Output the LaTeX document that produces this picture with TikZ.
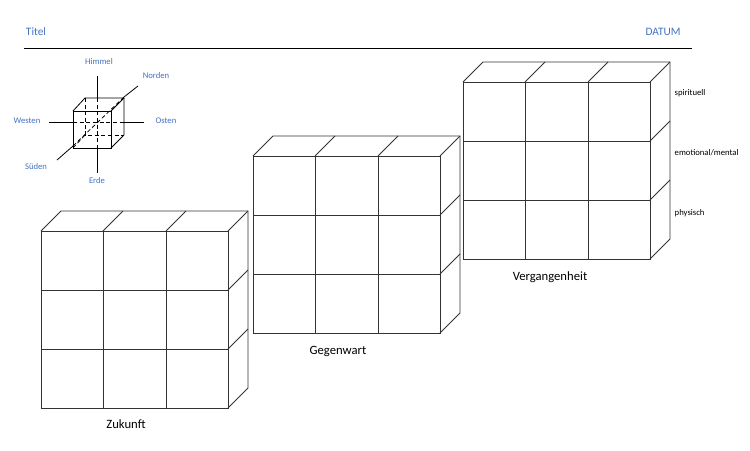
\documentclass[tikz,border=0pt]{standalone}
\usepackage{fontspec}
\setmainfont{Carlito}
\begin{document}
\begin{tikzpicture}[x=0.75pt,y=-0.75pt,
  grid/.style={line width=0.6pt,black!80},
  blue/.style={text=blue!55!cyan!70!black,font=\fontsize{7}{8}\selectfont},
  side/.style={font=\fontsize{6.5}{8}\selectfont,anchor=west},
  big/.style={font=\fontsize{9.5}{11}\selectfont}]
\useasboundingbox (0,0) rectangle (750,450);
\definecolor{tblue}{HTML}{4472C4}
\newcommand{\mycube}[2]{%
  \begin{scope}[shift={(#1,#2)}]
  \draw[grid] (0,0) rectangle (187,177);
  \foreach \i in {62,125} \draw[grid] (\i,0) -- (\i,177);
  \foreach \j in {59,118} \draw[grid] (0,\j) -- (187,\j);
  \draw[grid] (0,0) -- (20,-20) -- (207,-20) -- (207,157) -- (187,177);
  \draw[grid] (187,0) -- (207,-20);
  \foreach \i in {62,125} \draw[grid] (\i,0) -- (\i+20,-20);
  \foreach \j in {59,118} \draw[grid] (187,\j) -- (207,\j-20);
  \end{scope}}
\node[text=tblue,font=\fontsize{8.5}{10}\selectfont] (titel) at (36,32) {Titel};
\node[text=tblue,font=\fontsize{8.5}{10}\selectfont] (datum) at (663,32) {DATUM};
\draw[line width=0.6pt] (24,48) -- (692,48);
% small cube
\begin{scope}[line width=0.6pt]
\draw (97,76) -- (97,98); \draw (97,148) -- (97,173);
\draw (49,122) -- (73,122); \draw (124,122) -- (144,122);
\draw (57,160) -- (73,146); \draw (124,97) -- (138,86);
\draw (73,111) rectangle (111,148);
\draw (73,111) -- (85,98) -- (124,98) -- (124,135) -- (111,148);
\draw (111,111) -- (124,98);
\draw[densely dashed] (85,98) -- (85,135) -- (124,135);
\draw[densely dashed] (73,148) -- (85,135);
\draw[densely dashed] (97,98) -- (97,148);
\draw[densely dashed] (73,122) -- (124,122);
\draw[densely dashed] (73,146) -- (124,97);
\end{scope}
\node[text=tblue,font=\fontsize{6.5}{8}\selectfont] (himmel) at (99,62) {Himmel};
\node[text=tblue,font=\fontsize{6.5}{8}\selectfont] (norden) at (156,76) {Norden};
\node[text=tblue,font=\fontsize{6.5}{8}\selectfont] (westen) at (27,121) {Westen};
\node[text=tblue,font=\fontsize{6.5}{8}\selectfont] (osten) at (166,121) {Osten};
\node[text=tblue,font=\fontsize{6.5}{8}\selectfont] (sueden) at (36,167) {Süden};
\node[text=tblue,font=\fontsize{6.5}{8}\selectfont] (erde) at (97,181) {Erde};
\mycube{463}{82}
\mycube{253}{156}
\mycube{41}{231}
\node[side] (s1) at (670,93) {spirituell};
\node[side] (s2) at (670,153) {emotional/mental};
\node[side] (s3) at (670,213) {physisch};
\node[big] (v) at (550,277) {Vergangenheit};
\node[big] (g) at (338,351) {Gegenwart};
\node[big] (z) at (126,424) {Zukunft};
\end{tikzpicture}
\end{document}
